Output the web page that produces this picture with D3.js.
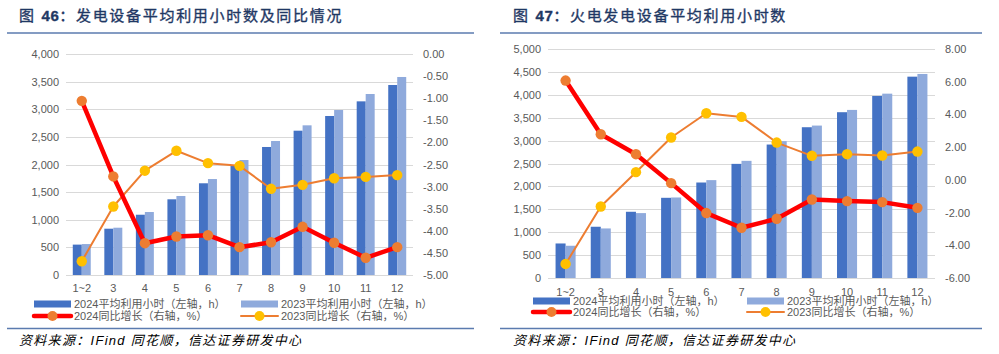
<!DOCTYPE html>
<html>
<head>
<meta charset="utf-8">
<script src="https://cdn.jsdelivr.net/npm/d3@7"></script>
<style>
  body { margin: 0; background: #fff; }
  svg { display: block; font-family: "Liberation Sans", "Noto Sans CJK SC", sans-serif; }
</style>
</head>
<body>
<svg id="chart" width="999" height="354"></svg>
<script>
// chart 46: all power generation equipment
const months = ['1~2', '3', '4', '5', '6', '7', '8', '9', '10', '11', '12'];
const allHours2024 = [550, 838, 1091, 1370, 1660, 1973, 2317, 2612, 2878, 3143, 3439];
const allHours2023 = [560, 856, 1140, 1430, 1737, 2081, 2425, 2709, 2986, 3276, 3584];
const allYoy2024 = [-1.06, -2.77, -4.28, -4.13, -4.10, -4.37, -4.26, -3.91, -4.27, -4.61, -4.37];
const allYoy2023 = [-4.69, -3.45, -2.64, -2.19, -2.47, -2.53, -3.05, -2.96, -2.81, -2.78, -2.74];

// chart 47: thermal power equipment
const thermalHours2024 = [754, 1119, 1446, 1751, 2085, 2492, 2914, 3292, 3620, 3975, 4396];
const thermalHours2023 = [704, 1082, 1417, 1758, 2137, 2558, 2987, 3328, 3670, 4025, 4455];
const thermalYoy2024 = [6.07, 2.79, 1.57, -0.20, -2.03, -2.93, -2.38, -1.20, -1.30, -1.36, -1.71];
const thermalYoy2023 = [-5.14, -1.63, 0.47, 2.59, 4.07, 3.85, 2.28, 1.47, 1.57, 1.49, 1.73];

const legendNames = ['2024平均利用小时（左轴，h）', '2023平均利用小时（左轴，h）',
                     '2024同比增长（右轴，%）', '2023同比增长（右轴，%）'];
const source = '资料来源：IFind 同花顺，信达证券研发中心';

const C = {
  bar24: '#4472C4', bar23: '#8FAADC',
  line24: '#FF0000', dot24: '#ED7D31',
  line23: '#ED7D31', dot23: '#FFC000',
  grid: '#D9D9D9', tick: '#595959', title: '#1F3864', rule: '#5B7BAF'
};

const svg = d3.select('#chart');

function drawPanel(cfg) {
  const g = svg.append('g');

  // title and rules
  const t = g.append('text')
    .attr('x', cfg.titleX).attr('y', 21)
    .attr('fill', C.title).attr('font-size', 15)
    .attr('stroke', C.title).attr('stroke-width', 0.35)
    .attr('letter-spacing', 1.7);
  t.append('tspan').text('图 ');
  t.append('tspan').attr('font-family', 'Liberation Sans').attr('font-weight', 'bold')
    .attr('letter-spacing', 0.5).text(cfg.num);
  t.append('tspan').text('：' + cfg.title);

  g.append('line').attr('x1', cfg.ruleX[0]).attr('x2', cfg.ruleX[1])
    .attr('y1', 33).attr('y2', 33).attr('stroke', C.rule).attr('stroke-width', 1.5);
  g.append('line').attr('x1', cfg.ruleX[0]).attr('x2', cfg.ruleX[1])
    .attr('y1', 328.5).attr('y2', 328.5).attr('stroke', C.rule).attr('stroke-width', 1.5);

  g.append('text').attr('x', cfg.titleX).attr('y', 345)
    .attr('font-size', 13).attr('font-style', 'italic').attr('letter-spacing', 1.3)
    .attr('fill', '#000').text(source);

  const x = d3.scaleBand().domain(months).range(cfg.xRange).paddingInner(0.43).paddingOuter(0.215);
  const xs = d3.scaleBand().domain(['2024', '2023']).range([0, x.bandwidth()]);
  const yL = d3.scaleLinear().domain(cfg.leftDomain).range(cfg.yRange);
  const yR = d3.scaleLinear().domain(cfg.rightDomain).range(cfg.yRange);

  // gridlines
  g.append('g').selectAll('line').data(yL.ticks(cfg.leftTicks)).join('line')
    .attr('x1', cfg.xRange[0]).attr('x2', cfg.xRange[1])
    .attr('y1', d => Math.round(yL(d)) + 0.5).attr('y2', d => Math.round(yL(d)) + 0.5)
    .attr('stroke', C.grid).attr('stroke-width', 1);

  // axes
  const axL = g.append('g').attr('transform', `translate(${cfg.xRange[0] - 4},0)`)
    .call(d3.axisLeft(yL).ticks(cfg.leftTicks).tickSize(0).tickFormat(d3.format(',')));
  const axR = g.append('g').attr('transform', `translate(${cfg.xRange[1] + 4},0)`)
    .call(d3.axisRight(yR).tickValues(d3.range(cfg.rightDomain[0], cfg.rightDomain[1] + 0.001, cfg.rightStep))
      .tickSize(0).tickFormat(d => d.toFixed(2)));
  const axX = g.append('g').attr('transform', `translate(0,${cfg.yRange[0]})`)
    .call(d3.axisBottom(x).tickSize(0).tickPadding(cfg.xPad));
  [axL, axR, axX].forEach(a => {
    a.select('.domain').remove();
    a.selectAll('text').attr('fill', C.tick).attr('font-size', 11)
      .attr('font-family', 'Liberation Sans');
  });
  axR.selectAll('text').attr('dx', 3);

  // bars
  const series = [
    { key: '2024', vals: cfg.h24, color: C.bar24 },
    { key: '2023', vals: cfg.h23, color: C.bar23 }
  ];
  series.forEach(s => {
    g.append('g').selectAll('rect').data(s.vals).join('rect')
      .attr('x', (d, i) => x(months[i]) + xs(s.key))
      .attr('width', xs.bandwidth())
      .attr('y', d => yL(d))
      .attr('height', d => yL(0) - yL(d))
      .attr('fill', s.color);
  });

  // lines
  const lineGen = d3.line().x((d, i) => x(months[i]) + x.bandwidth() / 2).y(d => yR(d));
  const lines = [
    { vals: cfg.y23, stroke: C.line23, w: 2, dot: C.dot23 },
    { vals: cfg.y24, stroke: C.line24, w: 4.5, dot: C.dot24 }
  ];
  lines.forEach(l => {
    g.append('path').datum(l.vals).attr('d', lineGen)
      .attr('fill', 'none').attr('stroke', l.stroke).attr('stroke-width', l.w)
      .attr('stroke-linejoin', 'round');
    g.append('g').selectAll('circle').data(l.vals).join('circle')
      .attr('cx', (d, i) => x(months[i]) + x.bandwidth() / 2)
      .attr('cy', d => yR(d)).attr('r', 5.2).attr('fill', l.dot);
  });

  // legend
  const lg = g.append('g').attr('font-size', 11).attr('fill', C.tick);
  const items = [
    { type: 'rect', color: C.bar24, x: cfg.legX[0], y: cfg.legY[0], name: legendNames[0] },
    { type: 'rect', color: C.bar23, x: cfg.legX[1], y: cfg.legY[0], name: legendNames[1] },
    { type: 'line', color: C.line24, dot: C.dot24, w: 4.5, x: cfg.legX[0], y: cfg.legY[1], name: legendNames[2] },
    { type: 'line', color: C.line23, dot: C.dot23, w: 2, x: cfg.legX[1], y: cfg.legY[1], name: legendNames[3] }
  ];
  items.forEach(it => {
    if (it.type === 'rect') {
      lg.append('rect').attr('x', it.x).attr('y', it.y - 3.5).attr('width', 37).attr('height', 7).attr('fill', it.color);
    } else {
      lg.append('line').attr('x1', it.x).attr('x2', it.x + 37).attr('y1', it.y).attr('y2', it.y)
        .attr('stroke', it.color).attr('stroke-width', it.w).attr('stroke-linecap', 'round');
      lg.append('circle').attr('cx', it.x + 18.5).attr('cy', it.y).attr('r', 5).attr('fill', it.dot);
    }
    lg.append('text').attr('x', it.x + 40).attr('y', it.y + 4).text(it.name);
  });
}

drawPanel({
  num: '46', title: '发电设备平均利用小时数及同比情况', titleX: 19, ruleX: [7, 474],
  xRange: [66, 413], yRange: [275, 54], xPad: 9,
  leftDomain: [0, 4000], leftTicks: 8, rightDomain: [-5, 0], rightStep: 0.5,
  h24: allHours2024, h23: allHours2023, y24: allYoy2024, y23: allYoy2023,
  legX: [34, 241], legY: [304, 316]
});

drawPanel({
  num: '47', title: '火电发电设备平均利用小时数', titleX: 513, ruleX: [500, 982],
  xRange: [548, 935], yRange: [278, 49], xPad: 10,
  leftDomain: [0, 5000], leftTicks: 10, rightDomain: [-6, 8], rightStep: 2,
  h24: thermalHours2024, h23: thermalHours2023, y24: thermalYoy2024, y23: thermalYoy2023,
  legX: [533, 747], legY: [301, 312]
});
</script>
</body>
</html>
